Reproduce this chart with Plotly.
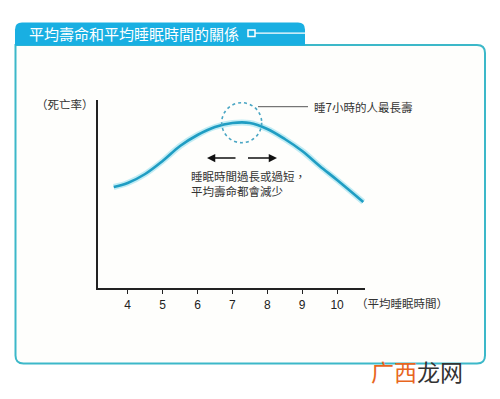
import plotly.graph_objects as go

# ---- data ----
sleep_hours = [3.6, 4.0, 4.5, 5.0, 5.5, 6.0, 6.5, 7.0, 7.5, 8.0, 8.5, 9.0, 9.5, 10.0, 10.75]
mortality = [101, 105, 114, 127, 142, 153, 161, 165, 165, 159, 149, 137, 122, 108, 86]
tick_vals = [4, 5, 6, 7, 8, 9, 10]
tick_text = ["4", "5", "6", "7", "8", "9", "10"]

title_text = "平均壽命和平均睡眠時間的關係"
y_label = "（死亡率）"
x_label = "（平均睡眠時間）"
peak_note = "睡7小時的人最長壽"
body_note = "睡眠時間過長或過短，<br>平均壽命都會減少"

W, H = 500, 399
L, R, T, B = 98, 365, 100, 288  # plot area in pixels

CJK = "Noto Sans CJK TC"
TEAL = "#3cb8c9"
TAB = "#19afe2"
CURVE = "#1f9dc3"


def pxp(x):
    return (x - L) / (R - L)


def pyp(y):
    return (B - y) / (B - T)


def dx(x):
    return 4 + (x - 127.7) / 34.9


def dy(y):
    return B - y


fig = go.Figure()
fig.add_trace(go.Scatter(
    x=sleep_hours, y=mortality, mode="lines",
    line=dict(color="rgba(120,215,235,0.45)", width=6, shape="spline", smoothing=1.0),
    hoverinfo="skip", showlegend=False))
fig.add_trace(go.Scatter(
    x=sleep_hours, y=mortality, mode="lines",
    line=dict(color=CURVE, width=2.6, shape="spline", smoothing=1.0),
    showlegend=False))

shapes = []
# frame
r = 8
x0, x1, y0, y1 = pxp(15.5), pxp(485), pyp(45), pyp(363.5)
fl, fr, ft, fb = 15.5, 485, 45, 363.5
path = (f"M {pxp(fl)},{pyp(ft)} L {pxp(fr - r)},{pyp(ft)} "
        f"Q {pxp(fr)},{pyp(ft)} {pxp(fr)},{pyp(ft + r)} "
        f"L {pxp(fr)},{pyp(fb - r)} Q {pxp(fr)},{pyp(fb)} {pxp(fr - r)},{pyp(fb)} "
        f"L {pxp(fl + r)},{pyp(fb)} Q {pxp(fl)},{pyp(fb)} {pxp(fl)},{pyp(fb - r)} Z")
shapes.append(dict(type="path", xref="paper", yref="paper", path=path,
                   line=dict(color=TEAL, width=2), fillcolor="#fefefc", layer="below"))
# tab
tl, tr, tt, tb = 15, 305, 22.5, 45.5
rt = 7
tab = (f"M {pxp(tl)},{pyp(tb)} L {pxp(tl)},{pyp(tt + rt)} Q {pxp(tl)},{pyp(tt)} {pxp(tl + rt)},{pyp(tt)} "
       f"L {pxp(tr - rt)},{pyp(tt)} Q {pxp(tr)},{pyp(tt)} {pxp(tr)},{pyp(tt + rt)} L {pxp(tr)},{pyp(tb)} Z")
shapes.append(dict(type="path", xref="paper", yref="paper", path=tab,
                   line=dict(color=TAB, width=0), fillcolor=TAB, layer="below"))
# tab icon
shapes.append(dict(type="rect", xref="paper", yref="paper",
                   x0=pxp(248), x1=pxp(255), y0=pyp(30), y1=pyp(36.5),
                   line=dict(color="white", width=1.5), fillcolor=TAB))
shapes.append(dict(type="line", xref="paper", yref="paper",
                   x0=pxp(255), x1=pxp(305), y0=pyp(33.2), y1=pyp(33.2),
                   line=dict(color="white", width=1.2)))
# dotted circle around peak
cx, cy, rad = 241.7, 122.7, 20
shapes.append(dict(type="circle", xref="x", yref="y",
                   x0=dx(cx - rad), x1=dx(cx + rad), y0=dy(cy + rad), y1=dy(cy - rad),
                   line=dict(color="#4aa6c4", width=1.6, dash="dot")))
# leader line
shapes.append(dict(type="line", xref="x", yref="y",
                   x0=dx(258), x1=dx(308), y0=dy(106.7), y1=dy(106.7),
                   line=dict(color="#555", width=1)))

annotations = [
    dict(text=title_text, xref="paper", yref="paper", x=pxp(27), y=pyp(33.5),
         xanchor="left", yanchor="middle", showarrow=False,
         font=dict(family=CJK, size=15, color="white")),
    dict(text=y_label, xref="paper", yref="paper", x=pxp(96), y=pyp(104),
         xanchor="right", yanchor="middle", showarrow=False,
         font=dict(family=CJK, size=11.5, color="#333")),
    dict(text=x_label, xref="paper", yref="paper", x=pxp(354), y=pyp(302.5),
         xanchor="left", yanchor="middle", showarrow=False,
         font=dict(family=CJK, size=11.5, color="#333")),
    dict(text=peak_note, xref="paper", yref="paper", x=pxp(312), y=pyp(107),
         xanchor="left", yanchor="middle", showarrow=False,
         font=dict(family=CJK, size=11.5, color="#333")),
    dict(text=body_note, xref="paper", yref="paper", x=pxp(189), y=pyp(183.5),
         xanchor="left", yanchor="middle", align="left", showarrow=False,
         font=dict(family=CJK, size=11.5, color="#333")),
    dict(text="<span style='color:#e8661e'>广西</span>龙网", xref="paper", yref="paper",
         x=pxp(369), y=pyp(371), xanchor="left", yanchor="middle", showarrow=False,
         font=dict(family="Noto Sans CJK SC", size=23, color="#333")),
    # arrows
    dict(text="", x=dx(207), y=dy(158), ax=dx(237), ay=dy(158), axref="x", ayref="y",
         xref="x", yref="y", showarrow=True, arrowhead=2, arrowsize=1.1, arrowwidth=1.5,
         arrowcolor="#111"),
    dict(text="", x=dx(277), y=dy(158), ax=dx(246.5), ay=dy(158), axref="x", ayref="y",
         xref="x", yref="y", showarrow=True, arrowhead=2, arrowsize=1.1, arrowwidth=1.5,
         arrowcolor="#111"),
]

fig.update_layout(
    width=W, height=H,
    margin=dict(l=L, r=W - R, t=T, b=H - B, pad=0),
    paper_bgcolor="white", plot_bgcolor="rgba(0,0,0,0)",
    shapes=shapes, annotations=annotations,
    showlegend=False,
    xaxis=dict(range=[dx(L), dx(R)], showgrid=False, zeroline=False,
               showline=True, linecolor="#222", linewidth=2.2,
               ticks="outside", ticklen=4, tickwidth=1.4, tickcolor="#222",
               tickvals=tick_vals, ticktext=tick_text,
               tickfont=dict(family="Liberation Sans", size=12, color="#222"),
               automargin=False, fixedrange=True),
    yaxis=dict(range=[0, B - T], showgrid=False, zeroline=False,
               showline=True, linecolor="#222", linewidth=2.4,
               showticklabels=False, ticks="", automargin=False, fixedrange=True),
)

fig.write_html("out.html")
